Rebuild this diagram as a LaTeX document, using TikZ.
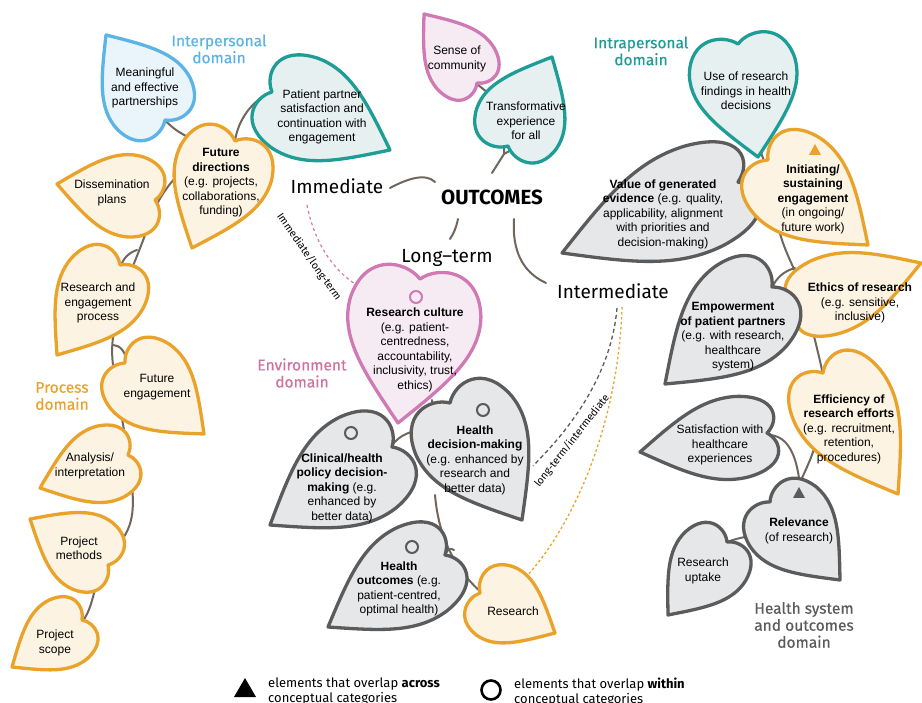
\documentclass[tikz,border=0pt]{standalone}
\usepackage{fontspec}
\setmainfont{Liberation Sans}
\newfontfamily\headfont{Fira Sans}
\newfontfamily\domfont{Fira Sans}[FakeBold=0.4]
\usetikzlibrary{calc}

\definecolor{orB}{HTML}{E9A22A}\definecolor{orF}{HTML}{FCF3E3}
\definecolor{tlB}{HTML}{1E9C96}\definecolor{tlF}{HTML}{E6F0F0}
\definecolor{blB}{HTML}{5BB3E6}\definecolor{blF}{HTML}{EAF4FB}
\definecolor{pkB}{HTML}{CF7AB4}\definecolor{pkF}{HTML}{F7EBF3}
\definecolor{gyB}{HTML}{5B5B5B}\definecolor{gyF}{HTML}{E6E7E9}
\definecolor{stemC}{HTML}{6F675E}
\definecolor{pkT}{HTML}{D0729F}

% leaf outline: notch at (0,-0.8), tip at (0,1)
\newcommand\leafpath{(0,-0.8) .. controls (0.25,-1.0) and (0.85,-1.02) .. (0.97,-0.45)
  .. controls (1.05,0.05) and (0.6,0.45) .. (0,1)
  .. controls (-0.6,0.45) and (-1.05,0.05) .. (-0.97,-0.45)
  .. controls (-0.85,-1.02) and (-0.25,-1.0) .. (0,-0.8) -- cycle}

% \leaf{notch x}{notch y}{tip x}{tip y}{half width}{style}
\newcommand\leaf[6]{%
  \pgfmathsetmacro\lfdx{#3-#1}%
  \pgfmathsetmacro\lfdy{#4-#2}%
  \pgfmathsetmacro\lfang{atan2(-\lfdy,\lfdx)+90}%
  \pgfmathsetmacro\lflen{veclen(\lfdx,\lfdy)/1.8}%
  \pgfmathsetmacro\lfcx{#1+0.4444*\lfdx}%
  \pgfmathsetmacro\lfcy{#2+0.4444*\lfdy}%
  \begin{scope}[shift={(\lfcx,\lfcy)}, rotate=\lfang, xscale=#5, yscale=\lflen]
    \draw[#6] \leafpath;
  \end{scope}}

\tikzset{
  leafbase/.style={line width=3.3pt, line join=round},
  orleaf/.style={leafbase, draw=orB, fill=orF},
  tlleaf/.style={leafbase, draw=tlB, fill=tlF},
  blleaf/.style={leafbase, draw=blB, fill=blF},
  pkleaf/.style={leafbase, draw=pkB, fill=pkF},
  gyleaf/.style={leafbase, draw=gyB, fill=gyF},
  stem/.style={draw=stemC, line width=2pt, line cap=round},
  ltxt/.style={align=center, inner sep=0pt, font=\fontsize{12}{14.5}\selectfont},
  head/.style={inner sep=0pt, font=\headfont\fontsize{19}{22}\selectfont},
  dom/.style={align=center, inner sep=0pt, font=\domfont\fontsize{15.5}{17}\selectfont},
  ring/.style={line width=2pt, draw=gyB},
  tinylab/.style={inner sep=0pt, font=\headfont\fontsize{10.5}{12}\selectfont},
}

\begin{document}
\begin{tikzpicture}[x=1pt, y=-1pt]
\clip (0,0) rectangle (922,703);
\fill[white] (0,0) rectangle (922,703);

% ---------- stems ----------
% left vine
\draw[stem] (272,92) .. controls (252,100) and (238,120) .. (235,141);
\draw[stem] (165,120) .. controls (172,128) and (180,133) .. (188,137);
\draw[stem] (175,178) .. controls (160,195) and (150,215) .. (145,235)
  .. controls (138,255) and (130,270) .. (122,300)
  .. controls (115,325) and (110,340) .. (113,365)
  .. controls (117,395) and (125,430) .. (130,470)
  .. controls (135,505) and (135,525) .. (118,545);
\draw[stem] (137,250) .. controls (130,252) and (123,258) .. (121,266);
\draw[stem] (113,345) .. controls (120,345) and (126,352) .. (127,363);
\draw[stem] (97,582) .. controls (92,600) and (90,612) .. (82,622);
% right vine
\draw[stem] (760,150) .. controls (768,170) and (772,190) .. (778,225)
  .. controls (784,255) and (800,275) .. (805,300)
  .. controls (812,330) and (818,350) .. (823,375)
  .. controls (826,410) and (818,440) .. (810,460)
  .. controls (805,472) and (800,482) .. (793,498);
\draw[stem] (735,183) .. controls (742,188) and (748,193) .. (755,198);
\draw[stem] (772,288) .. controls (776,278) and (784,271) .. (795,268);
\draw[stem] (768,435) .. controls (785,435) and (795,450) .. (799,478);
\draw[stem] (727,542) .. controls (738,538) and (745,537) .. (755,535);
% around the centre
\draw[stem] (390,188) .. controls (405,180) and (425,172) .. (435,182);
\draw[stem] (492,173) -- (504,154) -- (504,146);
\draw[stem] (504,154) -- (513,149);
\draw[stem] (477,84) -- (488,93);
\draw[stem] (458,219) .. controls (456,228) and (454,233) .. (450,239);
\draw[stem] (514,219) .. controls (512,250) and (522,272) .. (546,283);
% environment vine
\draw[stem] (432,400) .. controls (433,410) and (433,418) .. (432,428);
\draw[stem] (440,430) .. controls (415,427) and (398,435) .. (391,447);
\draw[stem] (435,495) .. controls (438,530) and (450,565) .. (482,593);
\draw[stem] (446,553) .. controls (448,549) and (451,548) .. (454,550);

% ---------- dashed links ----------
\draw[pkB, line width=1.2pt, dash pattern=on 3pt off 3pt]
  (307,205) .. controls (314,240) and (330,268) .. (358,286);
\draw[gyB, line width=1.3pt, dash pattern=on 4pt off 3pt]
  (617,308) .. controls (610,390) and (550,448) .. (533,466);
\draw[orB, line width=1.3pt, dash pattern=on 2.5pt off 2.5pt]
  (622,307) .. controls (618,430) and (570,530) .. (525,578);
\node[tinylab, rotate=-55] (lblIL) at (309,257) {Immediate/long-term};
\node[tinylab, rotate=52] (lblLI) at (572,441) {long-term/intermediate};

% ---------- leaves ----------
\leaf{165}{120}{106}{35}{46}{blleaf}
\leaf{272}{92}{390}{150}{52}{tlleaf}
\leaf{235}{141}{192}{248}{50}{orleaf}
\leaf{155}{200}{57}{184}{42}{orleaf}
\leaf{120}{265}{57}{355}{45}{orleaf}
\leaf{125}{363}{204}{434}{45}{orleaf}
\leaf{128}{455}{40}{488}{39}{orleaf}
\leaf{108}{565}{30}{519}{40}{orleaf}
\leaf{82}{620}{12}{667}{36}{orleaf}

\leaf{477}{83}{424}{14}{36}{pkleaf}
\leaf{508}{146}{552}{57}{46}{tlleaf}
\leaf{738}{44}{758}{157}{55}{tlleaf}

\leaf{738}{182}{562}{253}{55}{gyleaf}
\leaf{768}{160}{868}{245}{52}{orleaf}
\leaf{800}{306}{921}{263}{40}{orleaf}
\leaf{772}{287}{665}{384}{55}{gyleaf}
\leaf{823}{373}{898}{494}{52}{orleaf}
\leaf{767}{433}{640}{452}{42}{gyleaf}
\leaf{770}{502}{840}{580}{46}{gyleaf}
\leaf{727}{542}{668}{615}{40}{gyleaf}

\leaf{420}{279}{398}{423}{68}{pkleaf}
\leaf{392}{447}{270}{525}{55}{gyleaf}
\leaf{450}{403}{522}{520}{58}{gyleaf}
\leaf{445}{555}{328}{627}{50}{gyleaf}
\leaf{480}{593}{555}{633}{40}{orleaf}

% ---------- markers ----------
\fill[orB] (815,144) -- (821,155) -- (809,155) -- cycle;
\fill[gyB] (799,487) -- (805,498) -- (793,498) -- cycle;
\draw[ring, draw=pkB] (416,297) circle (6);
\draw[ring] (483,410) circle (6);
\draw[ring] (351,433) circle (6);
\draw[ring] (412,547) circle (6);

% ---------- leaf texts ----------
\node[ltxt] (meaning) at (145,88) {Meaningful\\and effective\\partnerships};
\node[ltxt] (satisf) at (322,117) {Patient partner\\satisfaction and\\continuation with\\engagement};
\node[ltxt] (futdir) at (221,183) {\textbf{Future}\\\textbf{directions}\\(e.g. projects,\\collaborations,\\funding)};
\node[ltxt] (dissem) at (112,193) {Dissemination\\plans};
\node[ltxt] (resproc) at (98,303) {Research and\\engagement\\process};
\node[ltxt] (futeng) at (157,387) {Future\\engagement};
\node[ltxt] (analysis) at (90,466) {Analysis/\\interpretation};
\node[ltxt] (methods) at (79,548) {Project\\methods};
\node[ltxt] (scope) at (55,643) {Project\\scope};
\node[ltxt] (community) at (457,59) {Sense of\\community};
\node[ltxt] (transf) at (526,121) {Transformative\\experience\\for all};
\node[ltxt] (usefind) at (746,91) {Use of research\\findings in health\\decisions};
\node[ltxt] (initiat) at (813,199) {\textbf{Initiating/}\\\textbf{sustaining}\\\textbf{engagement}\\(in ongoing/\\future work)};
\node[ltxt] (ethics) at (860,303) {\textbf{Ethics of research}\\(e.g. sensitive,\\inclusive)};
\node[ltxt] (effic) at (849,429) {\textbf{Efficiency of}\\\textbf{research efforts}\\(e.g. recruitment,\\retention,\\procedures)};
\node[ltxt] (value) at (663,214) {\textbf{Value of generated}\\\textbf{evidence} (e.g. quality,\\applicability, alignment\\with priorities and\\decision-making)};
\node[ltxt] (empower) at (733,337) {\textbf{Empowerment}\\\textbf{of patient partners}\\(e.g. with research,\\healthcare\\system)};
\node[ltxt] (hcexp) at (720,445) {Satisfaction with\\healthcare\\experiences};
\node[ltxt] (relev) at (799,531) {\textbf{Relevance}\\(of research)};
\node[ltxt] (uptake) at (703,571) {Research\\uptake};
\node[ltxt] (culture) at (415,350) {\textbf{Research culture}\\(e.g. patient-\\centredness,\\accountability,\\inclusivity, trust,\\ethics)};
\node[ltxt] (hdm) at (475,460) {\textbf{Health}\\\textbf{decision-making}\\(e.g. enhanced by\\research and\\better data)};
\node[ltxt] (clin) at (342,488) {\textbf{Clinical/health}\\\textbf{policy decision-}\\\textbf{making} (e.g.\\enhanced by\\better data)};
\node[ltxt] (hout) at (399,589) {\textbf{Health}\\\textbf{outcomes} (e.g.\\patient-centred,\\optimal health)};
\node[ltxt] (research) at (513,611) {Research};

% ---------- headings ----------
\node[head] (immediate) at (337,186) {Immediate};
\node[head, font=\headfont\bfseries\fontsize{20.5}{24}\selectfont] (outcomes) at (492,197) {OUTCOMES};
\node[head] (longterm) at (447,258) {Long–term};
\node[head] (intermed) at (613,291) {Intermediate};

% ---------- domain labels ----------
\node[dom, text=blB] (dInter) at (219,49) {Interpersonal\\domain};
\node[dom, text=tlB] (dIntra) at (641,51) {Intrapersonal\\domain};
\node[dom, text=orB] (dProc) at (62,396) {Process\\domain};
\node[dom, text=pkT] (dEnv) at (302,373) {Environment\\domain};
\node[dom, text=gyB] (dHealth) at (804,625) {Health system\\and outcomes\\domain};

% ---------- legend ----------
\fill (245,678) -- (256,697) -- (234,697) -- cycle;
\node[anchor=west, align=left, inner sep=0pt, font=\headfont\fontsize{13}{15}\selectfont] (legA) at (268,692)
  {elements that overlap \textbf{across}\\conceptual categories};
\draw[line width=2.6pt] (491,690) circle (9.5);
\node[anchor=west, align=left, inner sep=0pt, font=\headfont\fontsize{13}{15}\selectfont] (legW) at (514,692)
  {elements that overlap \textbf{within}\\conceptual categories};
\end{tikzpicture}
\end{document}
